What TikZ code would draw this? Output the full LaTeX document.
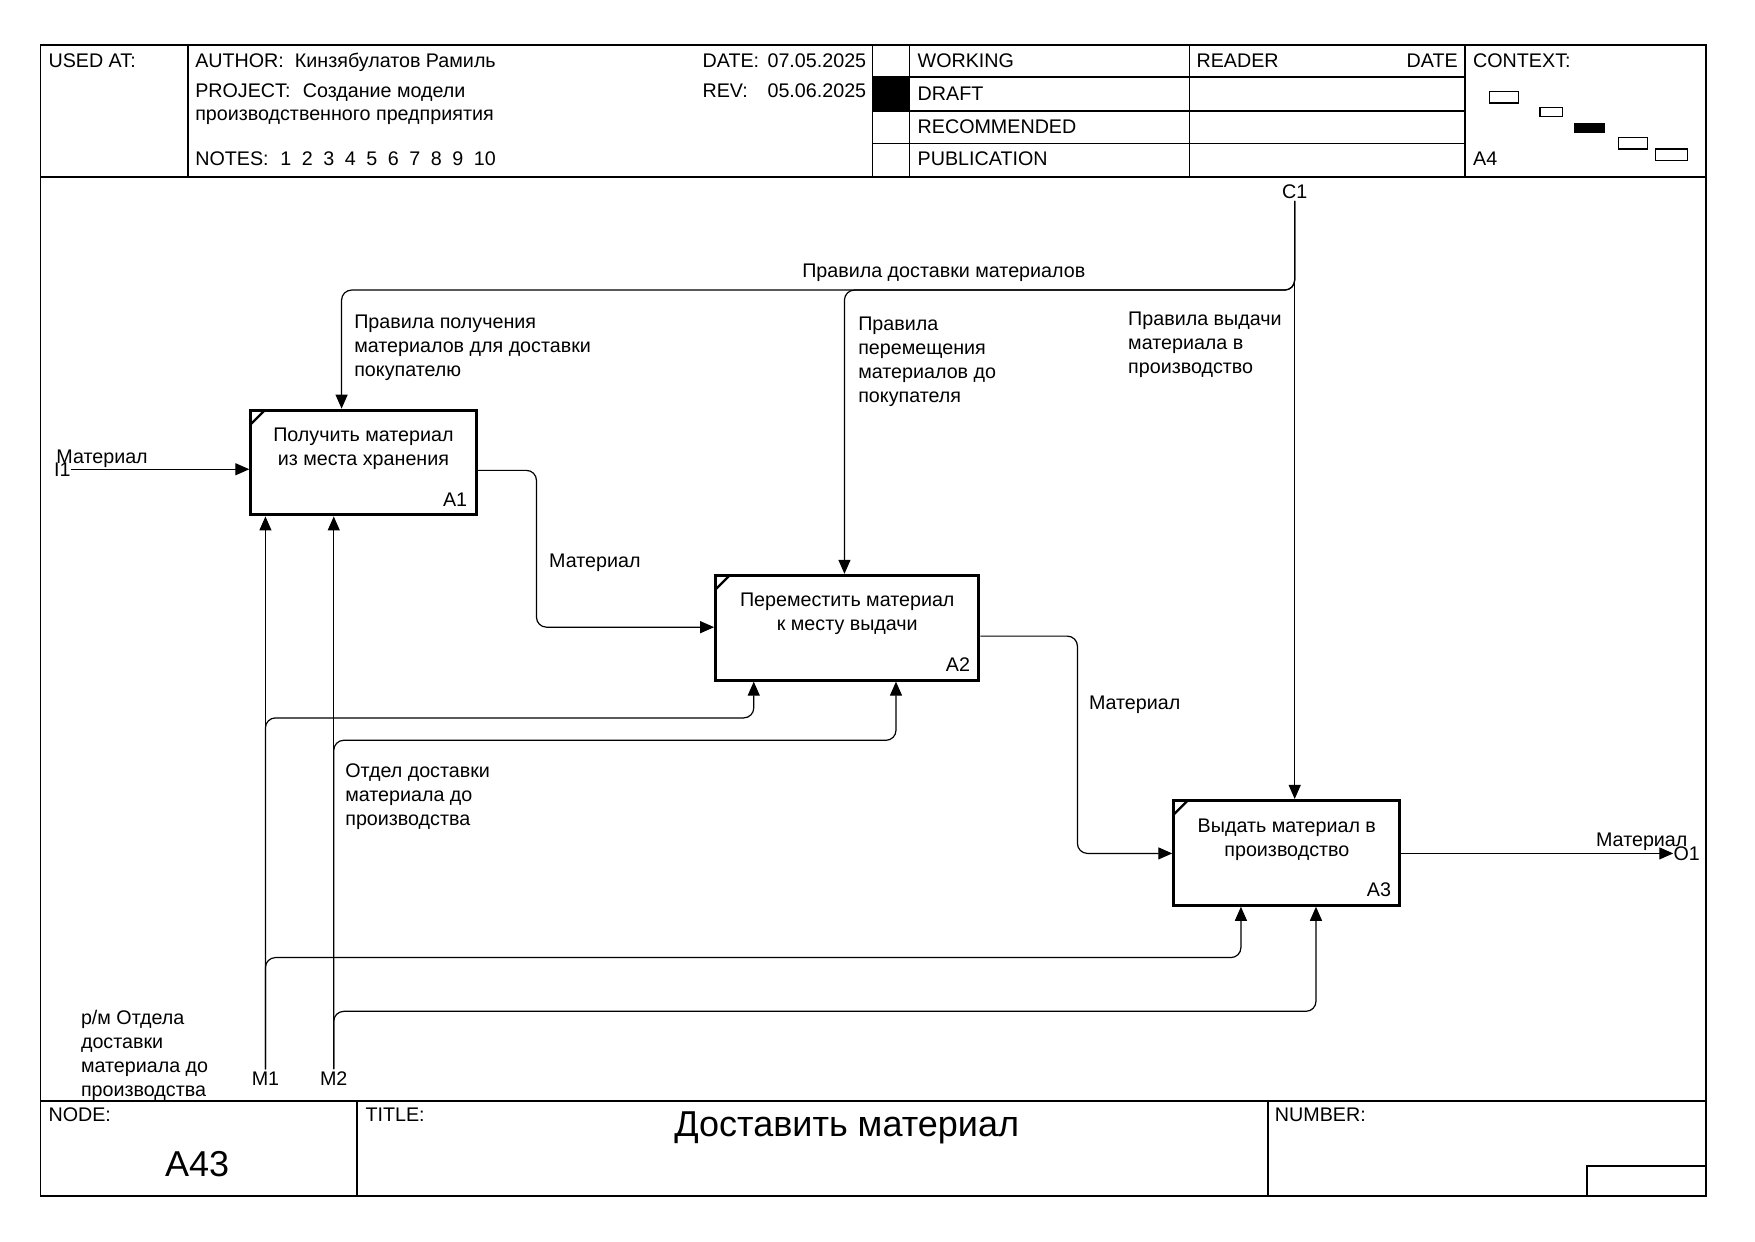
\documentclass[tikz,border=0pt]{standalone}
\usepackage{fontspec}
\setmainfont{Liberation Sans}
\usetikzlibrary{arrows.meta}

\newcommand{\lblfont}{\fontsize{9.85}{12}\selectfont}
\newcommand{\ttlfont}{\fontsize{18}{21}\selectfont}

\tikzset{
	frame/.style={line width=0.8pt},
	fbox/.style={draw, line width=1.5pt, minimum height=52.4pt, inner sep=0pt,
		path picture={\draw[line width=1.2pt] ([yshift=-7pt]path picture bounding box.north west) -- ([xshift=7pt]path picture bounding box.north west);}},
	btxt/.style={font=\lblfont, align=center, anchor=north, inner sep=0pt, yshift=-9.6pt},
	bnum/.style={font=\lblfont, anchor=base east, inner sep=0pt, xshift=-5pt, yshift=5pt},
	arr/.style={line width=0.6pt, rounded corners=5pt, -{Triangle[length=7pt, width=6pt]}},
	lbl/.style={font=\lblfont, align=left, anchor=north west, inner sep=0pt, yshift=-1.1pt},
	hdr/.style={font=\lblfont, anchor=base west, inner sep=0pt},
	bnd/.style={font=\lblfont, inner sep=1pt},
}

\begin{document}
\begin{tikzpicture}[x=0.56pt, y=-0.56pt]
	\useasboundingbox (0,0) rectangle (1567,1108.1);
	% frame and header
	\draw[frame] (36,40) rectangle (1523,1068);
	\draw[frame] (36,158) -- (1523,158);
	\draw[frame] (168,40) -- (168,158);
	\draw[frame] (779,40) -- (779,158);
	\draw[frame] (812,40) -- (812,158);
	\draw[frame] (1062,40) -- (1062,158);
	\draw[frame] (1308,40) -- (1308,158);
	\foreach \y in {69,99,128}
		\draw[frame] (779,\y) -- (1308,\y);
	\fill (779,69) rectangle (812,99);
	\node[hdr] at (43,60) {USED AT:};
	\node[hdr] at (174,60) {AUTHOR:};
	\node[hdr] at (263,60) {Кинзябулатов Рамиль};
	\node[hdr] at (174,87) {PROJECT:};
	\node[hdr] at (270,87) {Создание модели};
	\node[hdr] at (174,108) {производственного предприятия};
	\node[hdr] at (174,148) {NOTES:};
	\foreach \n [count=\i] in {1,...,10}
		\node[hdr] at (250+19.2*\i-19.2,148) {\n};
	\node[hdr] at (627,60) {DATE:};
	\node[hdr] at (685,60) {07.05.2025};
	\node[hdr] at (627,87) {REV:};
	\node[hdr] at (685,87) {05.06.2025};
	\node[hdr] at (819,60) {WORKING};
	\node[hdr] at (819,90) {DRAFT};
	\node[hdr] at (819,119) {RECOMMENDED};
	\node[hdr] at (819,148) {PUBLICATION};
	\node[hdr] at (1068,60) {READER};
	\node[hdr, anchor=base east] at (1302,60) {DATE};
	\node[hdr] at (1315,60) {CONTEXT:};
	\node[hdr] at (1315,148) {A4};
	% context
	\draw[line width=0.6pt] (1330,82) rectangle (1356,92);
	\draw[line width=0.6pt] (1375,96) rectangle (1395,104);
	\fill (1405,110) rectangle (1433,119);
	\draw[line width=0.6pt] (1445,123) rectangle (1471,133);
	\draw[line width=0.6pt] (1478,133) rectangle (1507,143);
	% footer
	\draw[frame] (36,983) -- (1523,983);
	\draw[frame] (319,983) -- (319,1068);
	\draw[frame] (1132,983) -- (1132,1068);
	\draw[frame] (1417,1068) -- (1417,1041) -- (1523,1041);
	\node[hdr] at (43,1001) {NODE:};
	\node[hdr] at (326,1001) {TITLE:};
	\node[hdr] at (1138,1001) {NUMBER:};
	\node[font=\ttlfont, inner sep=0pt] at (176,1039) {A43};
	\node[font=\ttlfont, inner sep=0pt] at (756,1007) {Доставить материал};

	% activities
	\node[fbox, minimum width=112.6pt] (A1) at (324.5,413) {};
	\node[fbox, minimum width=131.6pt] (A2) at (756.5,560.5) {};
	\node[fbox, minimum width=113.1pt] (A3) at (1149,761.5) {};
	\node[btxt] at (A1.north) {Получить материал\\из места хранения};
	\node[btxt] at (A2.north) {Переместить материал\\к месту выдачи};
	\node[btxt] at (A3.north) {Выдать материал в\\производство};
	\node[bnum] at (A1.south east) {A1};
	\node[bnum] at (A2.south east) {A2};
	\node[bnum] at (A3.south east) {A3};

	% boundary arrows
	\node[bnd, anchor=west, inner sep=0pt] (I1) at (48,419) {I1};
	\node[bnd, anchor=west, inner sep=0pt] (O1) at (1494,762) {O1};
	\node[bnd] (C1) at (1156,171) {C1};
	\node[bnd, anchor=base] (M1) at (237,969) {M1};
	\node[bnd, anchor=base] (M2) at (298,969) {M2};

	% controls
	\draw[arr] (C1.south) -- (C1 |- A3.north);
	\draw[arr] (C1.south) |- (305,259) -- (305,0 |- A1.north);
	\draw[arr] (C1.south) |- (754,259) -- (754,0 |- A2.north);
	% inputs and outputs
	\draw[arr] (I1.east) -- (I1 -| A1.west);
	\draw[arr] (A1.east |- 0,420) -| (479,560) -- (479,560 -| A2.west);
	\draw[arr] (A2.east |- 0,568) -| (962,762) -- (962,762 -| A3.west);
	\draw[arr] (A3.east |- O1) -- (O1.west);
	% mechanisms
	\draw[arr] (M1.north) -- (M1 |- A1.south);
	\draw[arr] (M1.north) |- (673,641) -- (673,0 |- A2.south);
	\draw[arr] (M1.north) |- (1108,855) -- (1108,0 |- A3.south);
	\draw[arr] (M2.north) -- (M2 |- A1.south);
	\draw[arr] (M2.north) |- (800,661) -- (800,0 |- A2.south);
	\draw[arr] (M2.north) |- (1175,903) -- (1175,0 |- A3.south);

	% arrow labels
	\node[lbl] at (716,233) {Правила доставки материалов};
	\node[lbl] at (316,279) {Правила получения\\материалов для доставки\\покупателю};
	\node[lbl] at (766,281) {Правила\\перемещения\\материалов до\\покупателя};
	\node[lbl] at (1007,276) {Правила выдачи\\материала в\\производство};
	\node[lbl] at (50,399) {Материал};
	\node[lbl] at (490,492) {Материал};
	\node[lbl] at (972,619) {Материал};
	\node[lbl, anchor=north east] at (1507,741) {Материал};
	\node[lbl] at (308,680) {Отдел доставки\\материала до\\производства};
	\node[lbl] at (72,900) {р/м Отдела\\доставки\\материала до\\производства};
\end{tikzpicture}
\end{document}
